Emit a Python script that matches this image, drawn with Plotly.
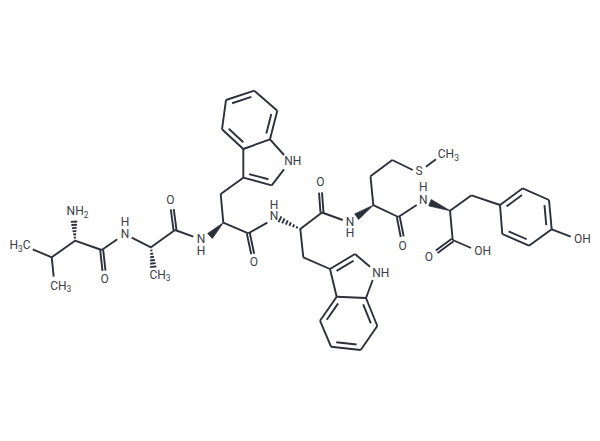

import plotly.graph_objects as go

INK = '#2c303b'
TEXT_INK = '#3a3e48'

# atom positions (pixels, y down)
atoms = {
    'me1': (32.7, 249.3), 'val_cb': (51.7, 257.3), 'me2': (53.7, 276.7),
    'val_ca': (75, 240.7), 'nh2': (74, 221.7), 'val_c': (101.7, 250), 'val_o': (104, 270.7),
    'n1a': (117.3, 239.3), 'n1b': (131.7, 237.7),
    'ala_ca': (151, 247.3), 'ala_me': (153.3, 266.7), 'ala_c': (175, 230), 'ala_o': (172.3, 209.3),
    'n2a': (193.3, 236.7), 'n2b': (210, 236),
    'trp1_ca': (223.3, 222.7), 'trp1_cb': (220.7, 194), 'trp1_c3': (243.3, 177.7),
    'trp1_c2': (271.7, 185.3), 'trp1_na': (284, 169.3), 'trp1_nb': (284, 155),
    'trp1_c7a': (270, 139.3), 'trp1_c3a': (243.3, 149), 'trp1_c4': (222, 129.3),
    'trp1_c5': (226, 100), 'trp1_c6': (254.3, 90.7), 'trp1_c7': (277.3, 110.7),
    'trp1_c': (248.3, 233.3), 'trp1_o': (252.7, 254),
    'n3a': (267.3, 222.7), 'n3b': (280, 219.3),
    'trp2_ca': (300.3, 229), 'trp2_cb': (303.3, 257.3), 'trp2_c3': (330, 269),
    'trp2_c2': (355, 254), 'trp2_na': (370, 266.7), 'trp2_nb': (372.7, 280),
    'trp2_c7a': (366, 298), 'trp2_c3a': (336.7, 296.7), 'trp2_c4': (320, 320.7),
    'trp2_c5': (331, 346.7), 'trp2_c6': (360.7, 350), 'trp2_c7': (377.3, 326),
    'trp2_c': (322, 212.5), 'trp2_o': (320.5, 192.5),
    'n4a': (342.7, 220), 'n4b': (356.7, 216.7),
    'met_ca': (373.3, 205.2), 'met_cb': (370.5, 176.3), 'met_cg': (392.3, 160),
    'sa': (412.7, 170), 'sb': (426, 166.7), 'met_me': (436, 159.3),
    'met_c': (398.3, 217), 'met_o': (402.2, 236.7),
    'n5a': (416.7, 205), 'n5b': (430, 202.7),
    'tyr_ca': (450, 210.7), 'tyr_cb': (471.5, 195.3), 'tyr_c': (452.7, 240),
    'tyr_o': (436.7, 251.7), 'tyr_oh': (471, 248),
    'ar1': (500, 205), 'ar2': (522.7, 188.3), 'ar3': (549, 200),
    'ar4': (551.7, 229.3), 'ar5': (529, 245.7), 'ar6': (502.3, 234), 'ar_oh': (570.7, 236.7),
}

single_bonds = [
    ('me1', 'val_cb'), ('val_cb', 'me2'), ('val_cb', 'val_ca'), ('val_ca', 'val_c'),
    ('val_c', 'n1a'), ('n1b', 'ala_ca'), ('ala_ca', 'ala_c'), ('ala_c', 'n2a'),
    ('trp1_ca', 'trp1_cb'), ('trp1_cb', 'trp1_c3'), ('trp1_c2', 'trp1_na'), ('trp1_nb', 'trp1_c7a'),
    ('trp1_c3', 'trp1_c3a'), ('trp1_c3a', 'trp1_c7a'), ('trp1_c4', 'trp1_c5'), ('trp1_c6', 'trp1_c7'),
    ('trp1_ca', 'trp1_c'), ('trp1_c', 'n3a'),
    ('trp2_ca', 'trp2_cb'), ('trp2_cb', 'trp2_c3'), ('trp2_c2', 'trp2_na'), ('trp2_nb', 'trp2_c7a'),
    ('trp2_c3', 'trp2_c3a'), ('trp2_c3a', 'trp2_c7a'), ('trp2_c4', 'trp2_c5'), ('trp2_c6', 'trp2_c7'),
    ('trp2_ca', 'trp2_c'), ('trp2_c', 'n4a'),
    ('met_ca', 'met_cb'), ('met_cb', 'met_cg'), ('met_cg', 'sa'), ('sb', 'met_me'),
    ('met_ca', 'met_c'), ('met_c', 'n5a'),
    ('tyr_ca', 'tyr_cb'), ('tyr_cb', 'ar1'), ('tyr_ca', 'tyr_c'), ('tyr_c', 'tyr_oh'),
    ('ar2', 'ar3'), ('ar4', 'ar5'), ('ar6', 'ar1'), ('ar4', 'ar_oh'),
]

# C=O bonds, two even strokes
carbonyls = [
    ('val_c', 'val_o'), ('ala_c', 'ala_o'), ('trp1_c', 'trp1_o'),
    ('trp2_c', 'trp2_o'), ('met_c', 'met_o'), ('tyr_c', 'tyr_o'),
]

# ring double bonds: outer stroke, then a shorter one on the ring-centre side
ring_doubles = [
    ('trp1_c2', 'trp1_c3', 'trp1_c3a'), ('trp1_c7', 'trp1_c7a', 'trp1_c5'),
    ('trp1_c3a', 'trp1_c4', 'trp1_c6'), ('trp1_c5', 'trp1_c6', 'trp1_c3a'),
    ('trp2_c2', 'trp2_c3', 'trp2_c7a'), ('trp2_c7', 'trp2_c7a', 'trp2_c5'),
    ('trp2_c3a', 'trp2_c4', 'trp2_c6'), ('trp2_c5', 'trp2_c6', 'trp2_c3a'),
    ('ar1', 'ar2', 'ar4'), ('ar3', 'ar4', 'ar6'), ('ar5', 'ar6', 'ar2'),
]

wedges = [('trp1_ca', 'n2b'), ('met_ca', 'n4b'), ('tyr_ca', 'n5b')]
hashes = [('val_ca', 'nh2'), ('ala_ca', 'ala_me'), ('trp2_ca', 'n3b')]

label_text = [
    'H<sub>3</sub>C', 'CH<sub>3</sub>', 'NH<sub>2</sub>', 'O', 'N', 'H', 'CH<sub>3</sub>', 'O',
    'N', 'H', 'NH', 'O', 'N', 'H', 'O', 'NH', 'N', 'H', 'S', 'CH<sub>3</sub>', 'O',
    'N', 'H', 'O', 'OH', 'OH',
]
label_x = [
    20, 60.7, 77.5, 104.7, 125, 125, 160, 170.3,
    201, 201, 292.7, 254, 274, 274, 320.5, 380.7, 350, 350, 419, 448.3, 402.7,
    423.3, 423.3, 429, 482.7, 582.3,
]
label_y = [
    246, 286.7, 212, 280, 235, 222.7, 275.7, 200.7,
    240, 252, 162, 263, 216.7, 206, 182.7, 274, 223.3, 234.3, 171.7, 155, 246.7,
    200.7, 188.3, 257.7, 252, 240,
]


def normal(p, q):
    dx, dy = q[0] - p[0], q[1] - p[1]
    length = (dx ** 2 + dy ** 2) ** 0.5
    return -dy / length, dx / length


line_x, line_y = [], []


def add_segment(p, q):
    line_x.extend([p[0], q[0], None])
    line_y.extend([p[1], q[1], None])


for a, b in single_bonds:
    add_segment(atoms[a], atoms[b])

for a, b in carbonyls:
    p, q = atoms[a], atoms[b]
    nx, ny = normal(p, q)
    for side in (-1.5, 1.5):
        add_segment((p[0] + nx * side, p[1] + ny * side), (q[0] + nx * side, q[1] + ny * side))

for a, b, towards in ring_doubles:
    p, q, c = atoms[a], atoms[b], atoms[towards]
    add_segment(p, q)
    nx, ny = normal(p, q)
    # pick the normal pointing into the ring
    if (c[0] - p[0]) * nx + (c[1] - p[1]) * ny < 0:
        nx, ny = -nx, -ny
    dx, dy = q[0] - p[0], q[1] - p[1]
    add_segment((p[0] + dx * 0.16 + nx * 5, p[1] + dy * 0.16 + ny * 5),
                (q[0] - dx * 0.16 + nx * 5, q[1] - dy * 0.16 + ny * 5))

for a, b in hashes:
    p, q = atoms[a], atoms[b]
    nx, ny = normal(p, q)
    for i in range(7):
        t = i / 6
        half = 0.6 + t * 2.6
        mx, my = p[0] + (q[0] - p[0]) * t, p[1] + (q[1] - p[1]) * t
        add_segment((mx - nx * half, my - ny * half), (mx + nx * half, my + ny * half))

fig = go.Figure()

fig.add_trace(go.Scatter(
    x=line_x, y=line_y, mode='lines',
    line=dict(color=INK, width=1.9),
    hoverinfo='skip', showlegend=False
))

for a, b in wedges:
    p, q = atoms[a], atoms[b]
    nx, ny = normal(p, q)
    fig.add_trace(go.Scatter(
        x=[p[0], q[0] + nx * 3.4, q[0] - nx * 3.4, p[0]],
        y=[p[1], q[1] + ny * 3.4, q[1] - ny * 3.4, p[1]],
        mode='lines', fill='toself', fillcolor=INK,
        line=dict(color=INK, width=0.8),
        hoverinfo='skip', showlegend=False
    ))

fig.add_trace(go.Scatter(
    x=label_x, y=label_y, mode='text', text=label_text,
    textposition='middle center',
    textfont=dict(family='Roboto', size=12, color=TEXT_INK),
    hoverinfo='skip', showlegend=False
))

fig.update_layout(
    width=600, height=441,
    margin=dict(l=0, r=0, t=0, b=0),
    paper_bgcolor='white', plot_bgcolor='white',
    xaxis=dict(range=[0, 600], visible=False, fixedrange=True),
    yaxis=dict(range=[441, 0], visible=False, fixedrange=True),
)

# the browser's default body margin would push the drawing 8px in
fig.write_html("out.html", config=dict(displayModeBar=False),
               post_script="document.body.style.margin = '0';")
